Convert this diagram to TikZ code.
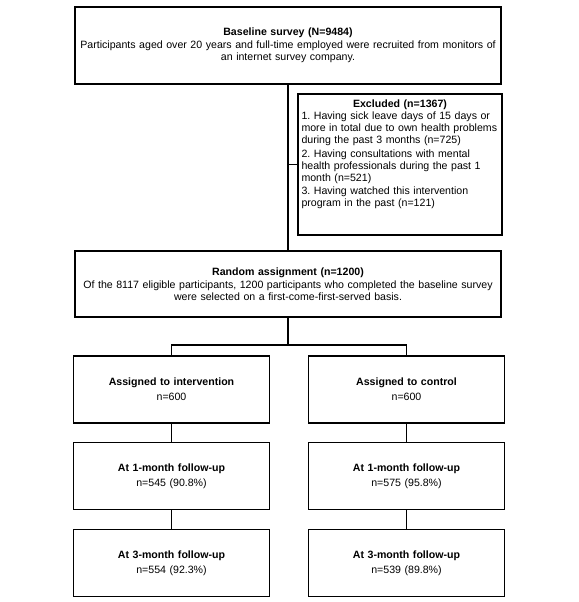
\documentclass[tikz,border=0pt]{standalone}
\usepackage{fontspec}
\setmainfont{Liberation Sans}
\frenchspacing
\usetikzlibrary{positioning}

\begin{document}
\begin{tikzpicture}[
  x=1pt, y=-1pt,
  box/.style={draw, line width=1.4pt, inner sep=4pt, align=center,
              font=\fontsize{10.6}{12}\selectfont},
  wide/.style={box, minimum width=426pt, text width=418pt},
  arm/.style={box, minimum width=195pt, minimum height=67pt, text width=188pt},
  link/.style={line width=1.6pt}
]
  \useasboundingbox (0,0) rectangle (578,602);

  % top of the flow
  \node[wide, minimum height=77pt] (base) at (288,45.5)
    {\textbf{Baseline survey (N=9484)}\\[1pt]
     Participants aged over 20 years and full-time employed were recruited from monitors of\\
     an internet survey company.};
  \node[box, align=left, inner xsep=3pt, minimum width=204pt, minimum height=141pt,
        text width=197pt] (excl) at (400,164.5)
    {\hyphenpenalty=10000
     \centerline{\textbf{Excluded (n=1367)}}
     1. Having sick leave days of 15 days or\\
     more in total due to own health problems\\
     during the past 3 months (n=725)\\[1.5pt]
     2. Having consultations with mental\\
     health professionals during the past 1\\
     month (n=521)\\[1.5pt]
     3. Having watched this intervention\\
     program in the past (n=121)\par\rule{0pt}{19pt}};
  \node[wide, minimum height=66pt] (rand) at (288,284)
    {\textbf{Random assignment (n=1200)}\\[1pt]
     Of the 8117 eligible participants, 1200 participants who completed the baseline survey\\
     were selected on a first-come-first-served basis.};

  % two arms
  \node[arm] (int1) at (171.5,389.5) {\textbf{Assigned to intervention}\\[3pt] n=600};
  \node[arm] (int2) at (171.5,476)   {\textbf{At 1-month follow-up}\\[3pt] n=545 (90.8\%)};
  \node[arm] (int3) at (171.5,563)   {\textbf{At 3-month follow-up}\\[3pt] n=554 (92.3\%)};
  \node[arm] (ctl1) at (406.5,389.5) {\textbf{Assigned to control}\\[3pt] n=600};
  \node[arm] (ctl2) at (406.5,476)   {\textbf{At 1-month follow-up}\\[3pt] n=575 (95.8\%)};
  \node[arm] (ctl3) at (406.5,563)   {\textbf{At 3-month follow-up}\\[3pt] n=539 (89.8\%)};

  \coordinate (split) at (base.south |- excl.west);
  \coordinate (fork) at (288,345);

  \draw[link] (base.south) -- (rand.north);
  \draw[link] (split) -- (excl.west);
  \draw[link] (rand.south) -- (fork);
  \draw[link] (int1.north) |- (fork) -| (ctl1.north);
  \draw[link] (int1) -- (int2) (int2) -- (int3);
  \draw[link] (ctl1) -- (ctl2) (ctl2) -- (ctl3);
\end{tikzpicture}
\end{document}
